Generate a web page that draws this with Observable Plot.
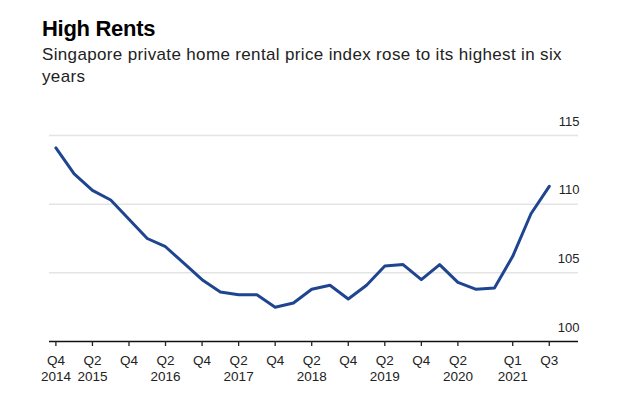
<!DOCTYPE html>
<html>
<head>
<meta charset="utf-8">
<script src="https://cdn.jsdelivr.net/npm/d3@7"></script>
<script src="https://cdn.jsdelivr.net/npm/@observablehq/plot@0.6"></script>
<style>
  html, body { margin: 0; padding: 0; background: #fff; }
  body { width: 638px; height: 420px; position: relative; overflow: hidden; font-family: "Liberation Sans", Arial, sans-serif; }
  #title { position: absolute; left: 42px; top: 16px; font-size: 22px; line-height: 26px; font-weight: bold; color: #000; letter-spacing: -0.3px; }
  #subtitle { position: absolute; left: 42px; top: 44px; width: 540px; font-size: 17px; line-height: 22px; color: #222; letter-spacing: 0.35px; }
  #chart { position: absolute; left: 0; top: 100px; }
</style>
</head>
<body>
<div id="title">High Rents</div>
<div id="subtitle">Singapore private home rental price index rose to its highest in six years</div>
<div id="chart"></div>
<script>
// Quarter labels, Q4 2014 .. Q3 2021
const quarters = [
  "Q4 2014",
  "Q1 2015", "Q2 2015", "Q3 2015", "Q4 2015",
  "Q1 2016", "Q2 2016", "Q3 2016", "Q4 2016",
  "Q1 2017", "Q2 2017", "Q3 2017", "Q4 2017",
  "Q1 2018", "Q2 2018", "Q3 2018", "Q4 2018",
  "Q1 2019", "Q2 2019", "Q3 2019", "Q4 2019",
  "Q1 2020", "Q2 2020", "Q3 2020", "Q4 2020",
  "Q1 2021", "Q2 2021", "Q3 2021"
];
// Private home rental price index
const rentalIndex = [
  114.1,
  112.2, 111.0, 110.3, 108.9,
  107.5, 106.9, 105.7, 104.5,
  103.6, 103.4, 103.4, 102.5,
  102.8, 103.8, 104.1, 103.1,
  104.1, 105.5, 105.6, 104.5,
  105.6, 104.3, 103.8, 103.9,
  106.2, 109.3, 111.3
];
// Tick labels on the x axis
const xTickQuarters = ["Q4 2014", "Q2 2015", "Q4 2015", "Q2 2016", "Q4 2016", "Q2 2017", "Q4 2017", "Q2 2018", "Q4 2018", "Q2 2019", "Q4 2019", "Q2 2020", "Q1 2021", "Q3 2021"];
const xTickLabels = ["Q4\n2014", "Q2\n2015", "Q4", "Q2\n2016", "Q4", "Q2\n2017", "Q4", "Q2\n2018", "Q4", "Q2\n2019", "Q4", "Q2\n2020", "Q1\n2021", "Q3"];
const yTicks = [100, 105, 110, 115];

const data = quarters.map((q, i) => ({ i, q, v: rentalIndex[i] }));
const xTicks = xTickQuarters.map(q => quarters.indexOf(q));
const labelOf = new Map(xTicks.map((t, k) => [t, xTickLabels[k]]));

const chart = Plot.plot({
  width: 638,
  height: 300,
  marginLeft: 49,
  marginRight: 60,
  marginTop: 35,
  marginBottom: 59,
  style: { fontFamily: "'Liberation Sans', Arial, sans-serif", background: "#fff" },
  x: { type: "linear", domain: [-0.35, 28.6] },
  y: { domain: [100, 115], axis: null },
  marks: [
    Plot.gridY([105, 110, 115], { stroke: "#e4e4e4", strokeOpacity: 1, strokeWidth: 1.5 }),
    Plot.ruleY([100], { stroke: "#111", strokeWidth: 1.5 }),
    Plot.axisX({
      ticks: xTicks,
      tickFormat: d => labelOf.get(d),
      tickSize: 5,
      tickPadding: 7,
      stroke: "#222",
      strokeWidth: 1.3,
      fontSize: 13.5,
      fill: "#222",
      lineHeight: 1.17,
      label: null
    }),
    Plot.text(yTicks, {
      y: d => d,
      text: d => String(d),
      frameAnchor: "right",
      textAnchor: "end",
      dx: 1,
      dy: -14,
      fontSize: 13,
      fill: "#222"
    }),
    Plot.line(data, { x: "i", y: "v", stroke: "#1f4590", strokeWidth: 3, strokeLinejoin: "round", strokeLinecap: "round" })
  ]
});
document.getElementById("chart").appendChild(chart);
</script>
</body>
</html>
